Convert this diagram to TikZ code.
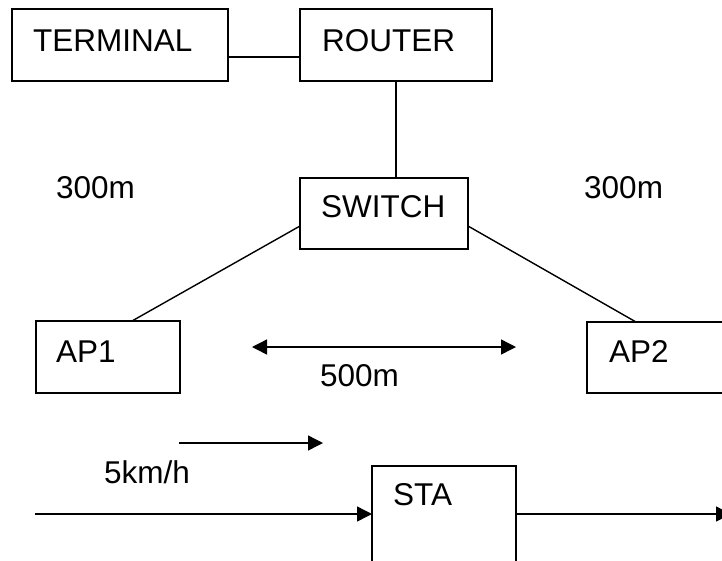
\documentclass[tikz,border=0pt]{standalone}
\usepackage{fontspec}
\setmainfont{Liberation Sans}
\usetikzlibrary{arrows.meta}
\begin{document}
\begin{tikzpicture}[x=1pt,y=-1pt,
  box/.style={draw,line width=1.5pt,inner sep=0pt,outer sep=0pt},
  lbl/.style={anchor=base west,inner sep=0pt,font=\fontsize{31.5}{38}\selectfont},
  conn/.style={line width=1.4pt},
  arr/.style={line width=1.4pt,-{Triangle[length=15pt,width=15pt]}},
  darr/.style={line width=1.4pt,{Triangle[length=15pt,width=15pt]}-{Triangle[length=15pt,width=15pt]}}]
\useasboundingbox (0,0) rectangle (722,560);
% boxes
\node[box,minimum width=216pt,minimum height=72pt] (term) at (120,45) {};
\node[box,minimum width=192pt,minimum height=72pt] (router) at (396,45) {};
\node[box,minimum width=168pt,minimum height=71pt] (switch) at (384,213.5) {};
\node[box,minimum width=144pt,minimum height=72pt] (ap1) at (108,357) {};
\node[box,minimum width=144pt,minimum height=71pt] (ap2) at (659,357.5) {};
\node[box,minimum width=144pt,minimum height=144pt] (sta) at (444,538) {};
% labels
\node[lbl] (tterm) at (33,51) {TERMINAL};
\node[lbl] (trouter) at (322,51) {ROUTER};
\node[lbl] (tswitch) at (321,217) {SWITCH};
\node[lbl] (tap1) at (56,362) {AP1};
\node[lbl] (tap2) at (609,362) {AP2};
\node[lbl] (tsta) at (393,505) {STA};
\node[lbl] (d1) at (56,198) {300m};
\node[lbl] (d2) at (584,198) {300m};
\node[lbl] (d3) at (320,386) {500m};
\node[lbl] (speed) at (104,483) {5km/h};
% connectors
\draw[conn] ([yshift=-12pt]term.east) -- ([yshift=-12pt]router.west);
\draw[conn] (router.south) -- (router.south |- switch.north);
\draw[conn] ([yshift=-12.5pt]switch.west) -- ([xshift=24pt]ap1.north);
\draw[conn] ([yshift=-12.5pt]switch.east) -- ([xshift=-23pt]ap2.north);
% arrows
\coordinate (m1) at (252,347);
\coordinate (m2) at (516,347);
\draw[darr] (m1) -- (m2);
\coordinate (v1) at (179,443);
\coordinate (v2) at (323,443);
\draw[arr] (v1) -- (v2);
\coordinate (in) at (35,514);
\draw[arr] (in) -- (sta.west |- in);
\coordinate (out) at (731,514);
\draw[arr] (sta.east |- out) -- (out);
\end{tikzpicture}
\end{document}
